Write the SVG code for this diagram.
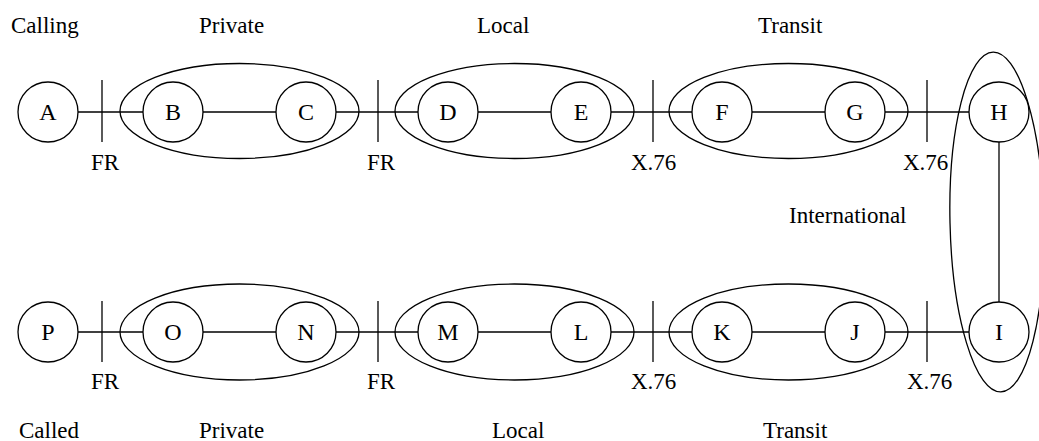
<svg xmlns="http://www.w3.org/2000/svg" width="1039" height="441" viewBox="0 0 1039 441">
<style>
.bg{fill:#ffffff}
.node circle{fill:#ffffff;stroke:#000000;stroke-width:1.3}
.node text{font-family:"Liberation Serif","Times New Roman",serif;font-size:24px;fill:#000000;text-anchor:middle}
.grp{fill:none;stroke:#000000;stroke-width:1.3}
.conn line{stroke:#000000;stroke-width:1.3}
.lbl{font-family:"Liberation Serif","Times New Roman",serif;font-size:23px;fill:#000000}
</style>
<rect class="bg" x="0" y="0" width="1039" height="441"/>

<g id="connectors" class="conn">
  <line x1="78" y1="112" x2="143" y2="112"/>
  <line x1="203" y1="112" x2="276" y2="112"/>
  <line x1="336" y1="112" x2="418" y2="112"/>
  <line x1="478" y1="112" x2="551" y2="112"/>
  <line x1="611" y1="112" x2="692" y2="112"/>
  <line x1="752" y1="112" x2="825" y2="112"/>
  <line x1="885" y1="112" x2="969" y2="112"/>
  <line x1="999" y1="142" x2="999" y2="302"/>
  <line x1="78" y1="332" x2="143" y2="332"/>
  <line x1="203" y1="332" x2="276" y2="332"/>
  <line x1="336" y1="332" x2="418" y2="332"/>
  <line x1="478" y1="332" x2="551" y2="332"/>
  <line x1="611" y1="332" x2="692" y2="332"/>
  <line x1="752" y1="332" x2="825" y2="332"/>
  <line x1="885" y1="332" x2="969" y2="332"/>
  <line x1="102" y1="80" x2="102" y2="142"/>
  <line x1="378" y1="80" x2="378" y2="142"/>
  <line x1="653" y1="80" x2="653" y2="142"/>
  <line x1="927" y1="80" x2="927" y2="142"/>
  <line x1="102" y1="301" x2="102" y2="362"/>
  <line x1="378" y1="301" x2="378" y2="362"/>
  <line x1="653" y1="301" x2="653" y2="362"/>
  <line x1="927" y1="301" x2="927" y2="362"/>
</g>

<g id="groups">
  <ellipse id="grp-private-top" class="grp" cx="239.5" cy="111" rx="119.5" ry="47.5"/>
  <ellipse id="grp-local-top" class="grp" cx="514.5" cy="111" rx="119.5" ry="47.5"/>
  <ellipse id="grp-transit-top" class="grp" cx="788.5" cy="111" rx="119.5" ry="47.5"/>
  <ellipse id="grp-private-bottom" class="grp" cx="239.5" cy="332" rx="119.5" ry="48"/>
  <ellipse id="grp-local-bottom" class="grp" cx="514.5" cy="332" rx="119.5" ry="48"/>
  <ellipse id="grp-transit-bottom" class="grp" cx="788.5" cy="332" rx="119.5" ry="48"/>
  <ellipse id="grp-international" class="grp" cx="997" cy="222" rx="47" ry="170" transform="rotate(-1.3 997 222)"/>
</g>

<g id="node-A" class="node"><circle cx="48" cy="112" r="30"/><text x="48" y="120">A</text></g>
<g id="node-B" class="node"><circle cx="173" cy="112" r="30"/><text x="173" y="120">B</text></g>
<g id="node-C" class="node"><circle cx="306" cy="112" r="30"/><text x="306" y="120">C</text></g>
<g id="node-D" class="node"><circle cx="448" cy="112" r="30"/><text x="448" y="120">D</text></g>
<g id="node-E" class="node"><circle cx="581" cy="112" r="30"/><text x="581" y="120">E</text></g>
<g id="node-F" class="node"><circle cx="722" cy="112" r="30"/><text x="722" y="120">F</text></g>
<g id="node-G" class="node"><circle cx="855" cy="112" r="30"/><text x="855" y="120">G</text></g>
<g id="node-H" class="node"><circle cx="999" cy="112" r="30"/><text x="999" y="120">H</text></g>
<g id="node-P" class="node"><circle cx="48" cy="332" r="30"/><text x="48" y="340">P</text></g>
<g id="node-O" class="node"><circle cx="173" cy="332" r="30"/><text x="173" y="340">O</text></g>
<g id="node-N" class="node"><circle cx="306" cy="332" r="30"/><text x="306" y="340">N</text></g>
<g id="node-M" class="node"><circle cx="448" cy="332" r="30"/><text x="448" y="340">M</text></g>
<g id="node-L" class="node"><circle cx="581" cy="332" r="30"/><text x="581" y="340">L</text></g>
<g id="node-K" class="node"><circle cx="722" cy="332" r="30"/><text x="722" y="340">K</text></g>
<g id="node-J" class="node"><circle cx="855" cy="332" r="30"/><text x="855" y="340">J</text></g>
<g id="node-I" class="node"><circle cx="999" cy="332" r="30"/><text x="999" y="340">I</text></g>

<g id="labels">
  <text class="lbl" x="11" y="33">Calling</text>
  <text class="lbl" x="199" y="33">Private</text>
  <text class="lbl" x="477" y="33">Local</text>
  <text class="lbl" x="758" y="33">Transit</text>
  <text class="lbl" x="91" y="170">FR</text>
  <text class="lbl" x="367" y="170">FR</text>
  <text class="lbl" x="631" y="170">X.76</text>
  <text class="lbl" x="903" y="170">X.76</text>
  <text class="lbl" x="789" y="223">International</text>
  <text class="lbl" x="91" y="389">FR</text>
  <text class="lbl" x="367" y="389">FR</text>
  <text class="lbl" x="631" y="389">X.76</text>
  <text class="lbl" x="907" y="389">X.76</text>
  <text class="lbl" x="19" y="438">Called</text>
  <text class="lbl" x="199" y="438">Private</text>
  <text class="lbl" x="492" y="438">Local</text>
  <text class="lbl" x="763" y="438">Transit</text>
</g>
</svg>
